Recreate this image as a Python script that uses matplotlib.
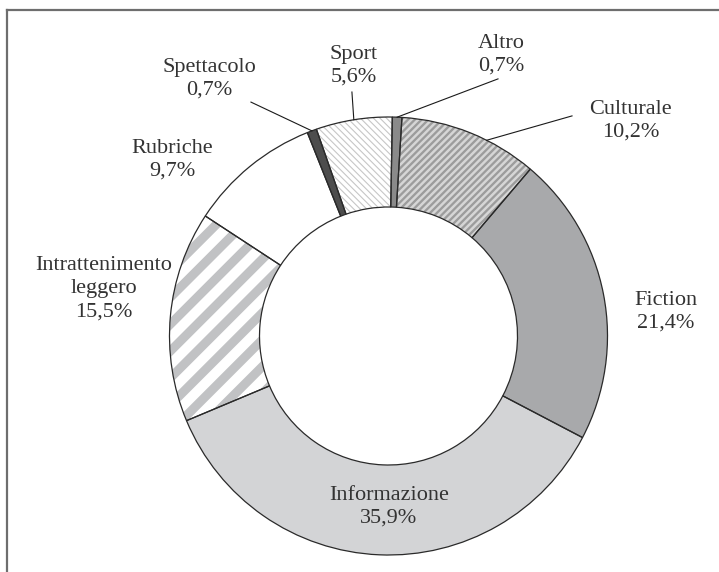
import numpy as np
import matplotlib
matplotlib.use("Agg")
import matplotlib.pyplot as plt
from matplotlib.patches import Wedge
from matplotlib.lines import Line2D

# dati
categorie = ['Altro', 'Culturale', 'Fiction', 'Informazione',
             'Intrattenimento\nleggero', 'Rubriche', 'Spettacolo', 'Sport']
valori = [0.7, 10.2, 21.4, 35.9, 15.5, 9.7, 0.7, 5.6]
colori = ['#8a8a8a', '#d6d6d6', '#a8a9ab', '#d3d4d6',
          '#ffffff', '#ffffff', '#4d4d4d', '#ffffff']

# tratteggi: indice -> (angolo, passo px, spessore px, colore)
tratteggi = {1: (45, 4.8, 2.3, '#9c9c9c'),
             4: (45, 19.0, 9.0, '#c1c2c4'),
             7: (135, 4.6, 1.1, '#c6c6c6')}

# posizione etichette (coordinate della torta) e linee di richiamo
pos_etichette = [(0.514, 1.283), (1.107, 0.982), (1.267, 0.110), (0.002, -0.781),
                 (-1.299, 0.215), (-0.988, 0.804), (-0.820, 1.174), (-0.158, 1.233)]
richiami = {0: ((0.500, 1.174), 0.0),
            1: ((0.838, 1.005), -4.7),
            6: ((-0.628, 1.068), 0.0),
            7: ((-0.167, 1.114), 0.0)}

R_PX = 219.0
CX, CY = 388.5, 336.0
W, H = 719, 572

fig = plt.figure(figsize=(W / 100, H / 100), dpi=100)
ax = fig.add_axes([0, 0, 1, 1])

wedges, _ = ax.pie(valori, colors=colori, startangle=89, counterclock=False,
                   radius=1.0, wedgeprops=dict(width=90 / R_PX, edgecolor='none'))

# righe del tratteggio, ritagliate sullo spicchio
for i, (ang, passo, spess, col) in tratteggi.items():
    a = np.deg2rad(ang)
    d = np.array([np.cos(a), np.sin(a)])
    n = np.array([-np.sin(a), np.cos(a)])
    step = passo / R_PX
    for k in np.arange(-1.6, 1.6, step):
        p0 = n * k - d * 1.6
        p1 = n * k + d * 1.6
        ln = Line2D([p0[0], p1[0]], [p0[1], p1[1]], color=col,
                    lw=spess * 0.72, solid_capstyle='butt', zorder=2)
        ax.add_line(ln)
        ln.set_clip_path(wedges[i])

# contorni
for w in wedges:
    ax.add_patch(Wedge(w.center, w.r, w.theta1, w.theta2, width=w.width,
                       fill=False, edgecolor='#2a2a2a', lw=0.9, zorder=3))

# etichette
for i, (cat, v) in enumerate(zip(categorie, valori)):
    testo = cat + '\n' + f'{v:.1f}'.replace('.', ',') + '%'
    x, y = pos_etichette[i]
    ax.text(x, y, testo, ha='center', va='center', fontsize=16, linespacing=1.28,
            family='Liberation Serif', color='#333333', zorder=4)

for i, (p_txt, off) in richiami.items():
    w = wedges[i]
    t = np.deg2rad((w.theta1 + w.theta2) / 2 + off)
    ax.plot([p_txt[0], np.cos(t)], [p_txt[1], np.sin(t)],
            color='#1a1a1a', lw=0.8, zorder=4)

ax.set_xlim(-CX / R_PX, (W - CX) / R_PX)
ax.set_ylim(-(H - CY) / R_PX, CY / R_PX)
ax.set_aspect('auto')
ax.axis('off')

# cornice (solo lato superiore e sinistro)
fig.add_artist(Line2D([6.7 / W, 1], [1 - 10 / H, 1 - 10 / H], color='#6e6e6e', lw=1.6))
fig.add_artist(Line2D([6.7 / W, 6.7 / W], [0, 1 - 10 / H], color='#6e6e6e', lw=1.6))

fig.savefig('out.png', dpi=100)
